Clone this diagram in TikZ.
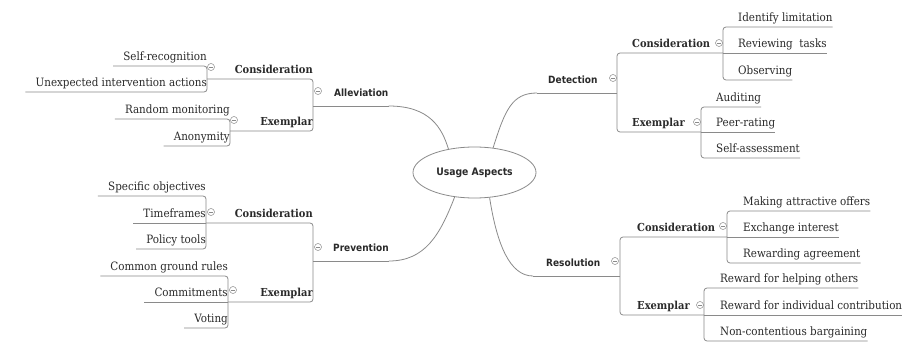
\documentclass[tikz,border=0pt]{standalone}
\usepackage{fontspec}
\usetikzlibrary{shapes.geometric}
\newfontfamily\leaffont{DejaVu Serif Condensed}
\newfontfamily\brfont{DejaVu Sans Condensed}
\definecolor{lnc}{HTML}{8A8A8A}
\definecolor{tx}{HTML}{2A2A2A}
\tikzset{
 lnk/.style={draw=lnc, line width=0.8pt},
 bracket/.style={lnk, rounded corners=3pt},
 leafR/.style={anchor=south west, inner xsep=0pt, inner ysep=5.5pt, text depth=0pt, font=\leaffont\fontsize{11.5}{13}\selectfont, text=tx},
 leafL/.style={leafR, anchor=south east},
 parR/.style={leafR, font=\leaffont\bfseries\fontsize{11}{13}\selectfont},
 parL/.style={parR, anchor=south east},
 brR/.style={anchor=south west, inner xsep=0pt, inner ysep=9.5pt, text depth=0pt, font=\brfont\bfseries\fontsize{10}{12}\selectfont, text=tx},
 knob/.style={circle, draw=lnc, line width=0.5pt, minimum size=7pt, inner sep=0pt,
   path picture={\draw[lnc, line width=0.5pt] ([xshift=-2pt]path picture bounding box.center) -- ([xshift=2pt]path picture bounding box.center);}},
 hub/.style={ellipse, draw=lnc, line width=0.8pt, minimum width=123pt, minimum height=51pt, inner sep=0pt, font=\brfont\bfseries\fontsize{10.3}{12}\selectfont, text=tx}
}
\begin{document}
\begin{tikzpicture}[x=1pt,y=-1pt]
\fill[white] (0,0) rectangle (903,342);
\useasboundingbox (0,0) rectangle (903,342);

% hub
\node[hub] (ua) at (474.5,172.5) {Usage Aspects};

% ---------- Detection ----------
\node[brR] (det) at (537,93) {\hspace{11pt}Detection};
\node[parR] (dc) at (617,53) {\hspace{15pt}Consideration};
\node[parR] (de) at (617,132) {\hspace{15pt}Exemplar};
\node[leafR] (dc1) at (723,27) {\hspace{15pt}Identify limitation\hspace{10pt}};
\node[leafR] (dc2) at (723,53) {\hspace{15pt}Reviewing\ \ tasks\hspace{10pt}};
\node[leafR] (dc3) at (723,80) {\hspace{15pt}Observing\hspace{10pt}};
\node[leafR] (de1) at (701,107) {\hspace{15pt}Auditing\hspace{10pt}};
\node[leafR] (de2) at (701,132) {\hspace{15pt}Peer-rating\hspace{10pt}};
\node[leafR] (de3) at (701,158) {\hspace{15pt}Self-assessment\hspace{10pt}};
\node[knob] (kdet) at (613,78) {};
\node[knob] (kdc) at (719,43) {};
\node[knob] (kde) at (697,122) {};
\draw[lnk] (det.south west) -- (det.south west -| dc.south west);
\draw[bracket] (dc2.south west) -- (dc.south west) -- (de.south west) -- (de2.south west);
\draw[bracket] (dc1.south east) -- (dc1.south west) -- (dc3.south west) -- (dc3.south east);
\draw[lnk] (dc2.south west) -- (dc2.south east);
\draw[bracket] (de1.south east) -- (de1.south west) -- (de3.south west) -- (de3.south east);
\draw[lnk] (de2.south west) -- (de2.south east);
\draw[lnk] (ua.53) .. controls (505,110) and (512,93) .. (det.south west);

% ---------- Resolution ----------
\node[brR] (res) at (533,276) {\hspace{13pt}Resolution};
\node[parR] (rc) at (620,237) {\hspace{17pt}Consideration};
\node[parR] (re) at (620,315) {\hspace{17pt}Exemplar};
\node[leafR] (rc1) at (727,211) {\hspace{16pt}Making attractive offers\hspace{10pt}};
\node[leafR] (rc2) at (727,237) {\hspace{16pt}Exchange interest\hspace{10pt}};
\node[leafR] (rc3) at (727,263) {\hspace{16pt}Rewarding agreement\hspace{10pt}};
\node[leafR] (re1) at (704,288) {\hspace{16pt}Reward for helping others\hspace{10pt}};
\node[leafR] (re2) at (704,315) {\hspace{16pt}Reward for individual contribution\hspace{10pt}};
\node[leafR] (re3) at (704,341) {\hspace{16pt}Non-contentious bargaining\hspace{10pt}};
\node[knob] (kres) at (615,261) {};
\node[knob] (krc) at (723,226) {};
\node[knob] (kre) at (700,305) {};
\draw[lnk] (res.south west) -- (res.south west -| rc.south west);
\draw[bracket] (rc2.south west) -- (rc.south west) -- (re.south west) -- (re2.south west);
\draw[bracket] (rc1.south east) -- (rc1.south west) -- (rc3.south west) -- (rc3.south east);
\draw[lnk] (rc2.south west) -- (rc2.south east);
\draw[bracket] (re1.south east) -- (re1.south west) -- (re3.south west) -- (re3.south east);
\draw[lnk] (re2.south west) -- (re2.south east);
\draw[lnk] (ua.301) .. controls (497,245) and (510,276) .. (res.south west);

% ---------- Alleviation ----------
\node[brR] (al) at (313,106) {\hspace{21pt}Alleviation\hspace{24pt}};
\node[parL] (ac) at (313,79) {Consideration\hspace{15pt}};
\node[parL] (ae) at (313,131) {Exemplar\hspace{15pt}};
\node[leafL] (ac1) at (207,66) {\hspace{10pt}Self-recognition\hspace{15pt}};
\node[leafL] (ac2) at (207,92) {\hspace{10pt}Unexpected intervention actions\hspace{15pt}};
\node[leafL] (ae1) at (230,119) {\hspace{10pt}Random monitoring\hspace{17pt}};
\node[leafL] (ae2) at (230,146) {\hspace{10pt}Anonymity\hspace{17pt}};
\node[knob] (kal) at (318,91) {};
\node[knob] (kac) at (211,67) {};
\node[knob] (kae) at (234,120) {};
\draw[lnk] (al.south west) -- (al.south east);
\draw[bracket] (ac.south east -| ac1.south east) -- (ac.south east) -- (ae.south east) -- (ae.south east -| ae1.south east);
\draw[bracket] (ac1.south west) -- (ac1.south east) -- (ac2.south east) -- (ac2.south west);
\draw[bracket] (ae1.south west) -- (ae1.south east) -- (ae2.south east) -- (ae2.south west);
\draw[lnk] (ua.138) .. controls (442,128) and (430,106) .. (al.south east);

% ---------- Prevention ----------
\node[brR] (pr) at (313,261) {\hspace{20pt}Prevention\hspace{15pt}};
\node[parL] (pc) at (313,223) {Consideration\hspace{16pt}};
\node[parL] (pe) at (313,302) {Exemplar\hspace{16pt}};
\node[leafL] (pc1) at (206,196) {\hspace{10pt}Specific objectives\hspace{15pt}};
\node[leafL] (pc2) at (206,223) {\hspace{10pt}Timeframes\hspace{15pt}};
\node[leafL] (pc3) at (206,249) {\hspace{10pt}Policy tools\hspace{15pt}};
\node[leafL] (pe1) at (228,276) {\hspace{10pt}Common ground rules\hspace{16pt}};
\node[leafL] (pe2) at (228,302) {\hspace{10pt}Commitments\hspace{16pt}};
\node[leafL] (pe3) at (228,328) {\hspace{10pt}Voting\hspace{16pt}};
\node[knob] (kpr) at (318,247) {};
\node[knob] (kpc) at (211,212) {};
\node[knob] (kpe) at (233,290) {};
\draw[lnk] (pr.south west) -- (pr.south east);
\draw[bracket] (pc2.south east) -- (pc.south east) -- (pe.south east) -- (pe2.south east);
\draw[bracket] (pc1.south west) -- (pc1.south east) -- (pc3.south east) -- (pc3.south west);
\draw[lnk] (pc2.south west) -- (pc2.south east);
\draw[bracket] (pe1.south west) -- (pe1.south east) -- (pe3.south east) -- (pe3.south west);
\draw[lnk] (pe2.south west) -- (pe2.south east);
\draw[lnk] (ua.231) .. controls (440,235) and (425,261) .. (pr.south east);
\end{tikzpicture}
\end{document}
